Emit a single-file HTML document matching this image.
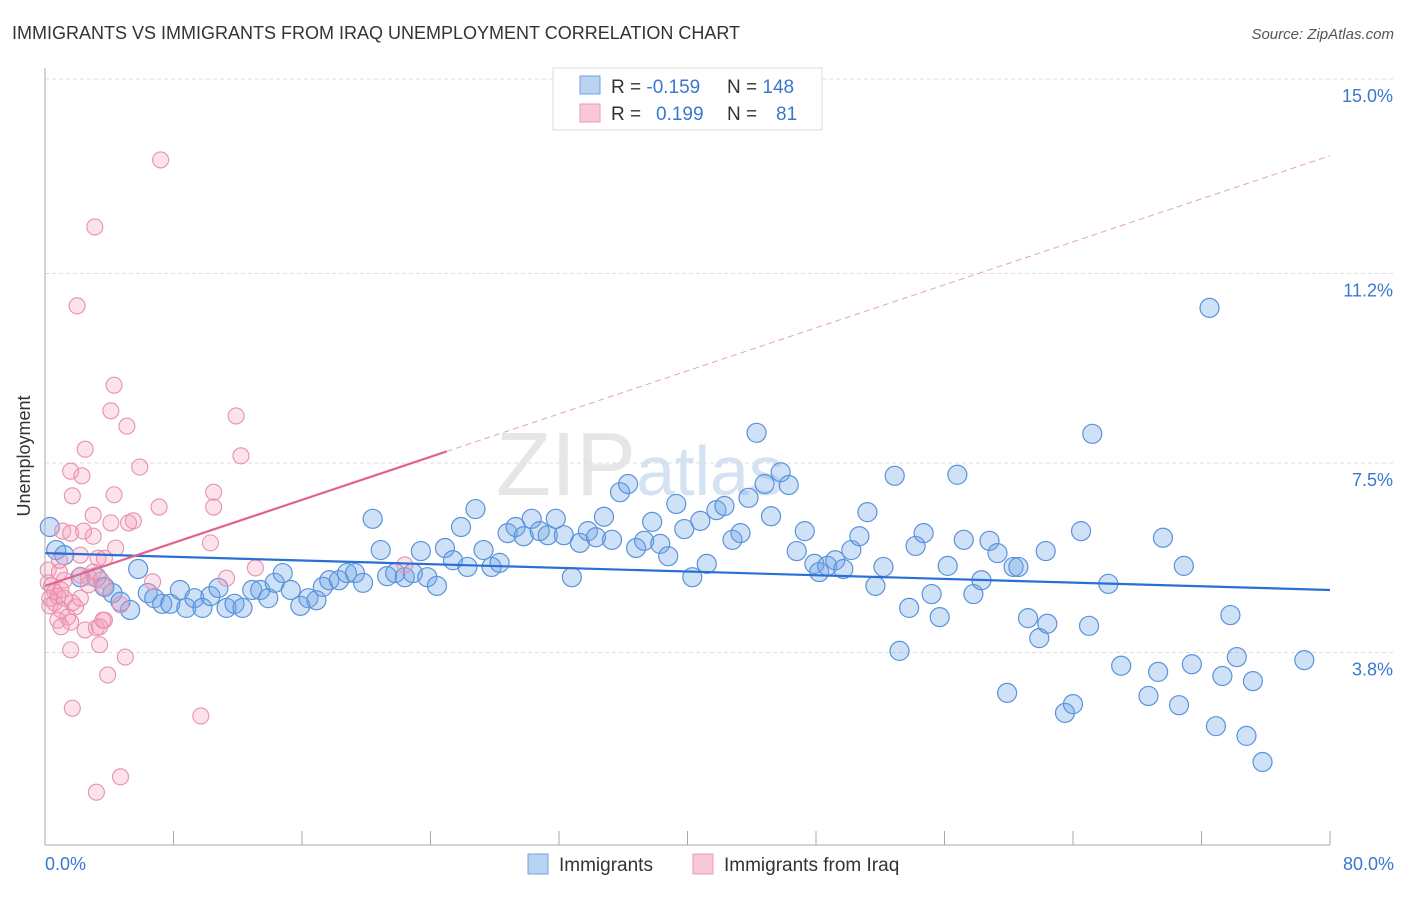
<!DOCTYPE html>
<html><head><meta charset="utf-8"><style>
body{margin:0;background:#fff;font-family:"Liberation Sans",sans-serif}
svg text{font-family:"Liberation Sans",sans-serif}
</style></head><body>
<svg id="c" width="1406" height="892">
<text x="12" y="39" font-size="18" fill="#333">IMMIGRANTS VS IMMIGRANTS FROM IRAQ UNEMPLOYMENT CORRELATION CHART</text>
<text x="1394" y="39" font-size="15" fill="#555" font-style="italic" text-anchor="end">Source: ZipAtlas.com</text>
<text x="30" y="456" font-size="18" fill="#333" text-anchor="middle" transform="rotate(-90 30 456)">Unemployment</text>
<text x="640" y="495" font-size="90" fill="#e6e6e6" font-family="Liberation Serif" text-anchor="middle">ZIP<tspan fill="#d4e2f3" font-family="Liberation Sans" font-size="70">atlas</tspan></text>
<g id="grid"></g><g id="pts"></g><g id="lines"></g>
<line x1="45" y1="68" x2="45" y2="845" stroke="#aaa"/>
<line x1="45" y1="845" x2="1330" y2="845" stroke="#aaa"/>
<text x="45" y="870" font-size="18" fill="#3a78d0">0.0%</text>
<text x="1394" y="870" font-size="18" fill="#3a78d0" text-anchor="end">80.0%</text>
<g>
<rect x="553" y="68" width="269" height="62" fill="#fff" stroke="#ddd"/>
<rect x="580" y="76" width="20" height="18" fill="#b9d3f2" stroke="#6fa0e0"/>
<rect x="580" y="104" width="20" height="18" fill="#f9c8d6" stroke="#ea9ab4"/>
<text x="611" y="93" font-size="19" fill="#333">R = <tspan fill="#3a78d0">-0.159</tspan><tspan x="727">N = </tspan><tspan fill="#3a78d0">148</tspan></text>
<text x="611" y="120" font-size="19" fill="#333">R = <tspan fill="#3a78d0" x="656">0.199</tspan><tspan x="727">N = </tspan><tspan fill="#3a78d0" x="776">81</tspan></text>
</g>
<g>
<rect x="528" y="854" width="20" height="20" fill="#b9d3f2" stroke="#6fa0e0"/>
<text x="559" y="871" font-size="19" fill="#333">Immigrants</text>
<rect x="693" y="854" width="20" height="20" fill="#f9c8d6" stroke="#ea9ab4"/>
<text x="724" y="871" font-size="19" fill="#333">Immigrants from Iraq</text>
</g>
</svg>
<script>
const yTicks=[3.8,7.5,11.2,15.0];
const yTickLabels=["3.8%","7.5%","11.2%","15.0%"];
const xTicks=[8,16,24,32,40,48,56,64,72,80];
const blueX=[0.3,0.7,1.2,2.2,3.2,3.7,4.2,4.7,5.3,5.8,6.4,6.8,7.3,7.8,8.4,8.8,9.3,9.8,10.3,10.8,11.3,11.8,12.3,12.9,13.4,13.9,14.3,14.8,15.3,15.9,16.4,16.9,17.3,17.7,18.3,18.8,19.3,19.8,20.4,20.9,21.3,21.8,22.4,22.9,23.4,23.8,24.4,24.9,25.4,25.9,26.3,26.8,27.3,27.8,28.3,28.8,29.3,29.8,30.3,30.8,31.3,31.8,32.3,32.8,33.3,33.8,34.3,34.8,35.3,35.8,36.3,36.8,37.3,37.8,38.3,38.8,39.3,39.8,40.3,40.8,41.2,41.8,42.3,42.8,43.3,43.8,44.3,44.8,45.2,45.8,46.3,46.8,47.3,47.9,48.2,48.7,49.2,49.7,50.2,50.7,51.2,51.7,52.2,52.9,53.2,53.8,54.2,54.7,55.2,55.7,56.2,56.8,57.2,57.8,58.3,58.8,59.3,59.9,60.3,60.6,61.2,61.9,62.4,62.3,63.5,64,64.5,65,65.2,66.2,67,68.7,69.3,69.6,70.6,70.9,71.4,72.5,72.9,73.3,73.8,74.2,74.8,75.2,75.8,78.4];
const blueY=[6.25,5.8,5.7,5.27,5.27,5.08,4.96,4.79,4.63,5.43,4.96,4.86,4.75,4.75,5.02,4.67,4.86,4.67,4.9,5.06,4.67,4.75,4.67,5.02,5.02,4.86,5.16,5.35,5.02,4.71,4.86,4.82,5.08,5.21,5.21,5.35,5.35,5.16,6.41,5.8,5.29,5.35,5.27,5.35,5.78,5.27,5.1,5.84,5.6,6.25,5.47,6.6,5.8,5.47,5.55,6.13,6.25,6.07,6.41,6.17,6.09,6.41,6.09,5.27,5.94,6.17,6.05,6.45,6,6.93,7.09,5.84,5.98,6.35,5.92,5.68,6.7,6.21,5.27,6.37,5.53,6.58,6.66,6,6.13,6.82,8.09,7.09,6.46,7.32,7.07,5.78,6.17,5.53,5.37,5.49,5.6,5.43,5.8,6.07,6.54,5.1,5.47,7.25,3.83,4.67,5.88,6.13,4.94,4.49,5.49,7.27,6,4.94,5.21,5.98,5.74,3.01,5.47,5.47,4.47,4.08,4.36,5.78,2.62,2.79,6.17,4.32,8.07,5.14,3.54,2.95,3.42,6.04,2.77,5.49,3.57,10.53,2.36,3.34,4.53,3.71,2.17,3.24,1.66,3.65];
const pinkX=[7.2,3.1,2,4.3,4.1,5.1,11.9,2.5,12.2,1.6,2.3,5.9,1.7,4.3,10.5,10.5,7.1,3,1.1,1.6,5.2,5.5,4.1,3,2.4,4.4,10.3,2.2,3.3,3.7,22.4,13.1,0.2,0.9,1.2,2.2,2.7,3,3.5,0.2,0.4,0.6,1,2.7,3.7,6.7,11.3,0.3,0.6,0.8,1.2,1.7,2.2,0.3,1,1.9,4.7,1.4,0.8,1.6,3.7,1,2.5,3.2,3.4,3.6,1.6,3.4,5,3.9,1.7,9.7,4.7,3.2,0.9];
const pinkY=[13.42,12.11,10.57,9.02,8.52,8.22,8.42,7.77,7.64,7.34,7.25,7.42,6.86,6.88,6.93,6.64,6.64,6.48,6.17,6.13,6.33,6.37,6.33,6.07,6.17,5.84,5.94,5.7,5.64,5.64,5.51,5.45,5.41,5.37,5.21,5.31,5.27,5.37,5.21,5.16,5.1,4.98,5.02,5.12,5.08,5.18,5.25,4.86,4.77,4.9,4.86,4.77,4.86,4.71,4.63,4.69,4.73,4.49,4.43,4.39,4.43,4.3,4.24,4.28,4.3,4.43,3.85,3.95,3.71,3.36,2.71,2.56,1.37,1.07,5.6];
const blueTrend=[5.74,5.02];
const pinkTrend=[5.1,13.5];
const pinkSolidEnd=25;
const NS="http://www.w3.org/2000/svg";
const X0=45,X1=1330,YB=847,PY=51.2;
function sx(v){return X0+(v/80)*(X1-X0);}
function sy(v){return YB-v*PY;}
function mk(tag,parent,attrs){const e=document.createElementNS(NS,tag);for(const k in attrs)e.setAttribute(k,attrs[k]);parent.appendChild(e);return e;}
const grid=document.getElementById('grid');
yTicks.forEach((t,i)=>{
 const l=mk('line',grid,{x1:45,x2:1394,y1:sy(t),y2:sy(t),stroke:'#ddd','stroke-dasharray':'4,3'});
 
 
 const tx=mk('text',grid,{x:1393,y:sy(t)+23,'font-size':18,fill:'#3a78d0','text-anchor':'end'});
 tx.textContent=yTickLabels[i];
 
 
});
xTicks.forEach(t=>{
 const l=mk('line',grid,{x1:sx(t),x2:sx(t),y1:831,y2:845,stroke:'#aaa'});
 
 
});
const pts=document.getElementById('pts');
blueX.forEach((x,i)=>{
 const c=mk('circle',pts,{cx:sx(x),cy:sy(blueY[i]),r:9.5,fill:'rgba(110,165,232,0.33)',stroke:'#5a93dc','stroke-width':1.2});
 
 
});
pinkX.forEach((x,i)=>{
 const c=mk('circle',pts,{cx:sx(x),cy:sy(pinkY[i]),r:8,fill:'rgba(245,160,190,0.3)',stroke:'#e890ae','stroke-width':1.1});
 
 
});
const lines=document.getElementById('lines');
const bl=mk('line',lines,{x1:sx(0),y1:sy(blueTrend[0]),x2:sx(80),y2:sy(blueTrend[1]),stroke:'#2a6fd6','stroke-width':2.2});


const pm=pinkTrend[0]+(pinkTrend[1]-pinkTrend[0])*pinkSolidEnd/80;
const pl=mk('line',lines,{x1:sx(0),y1:sy(pinkTrend[0]),x2:sx(pinkSolidEnd),y2:sy(pm),stroke:'#e4628e','stroke-width':2.2});


const pd=mk('line',lines,{x1:sx(pinkSolidEnd),y1:sy(pm),x2:sx(80),y2:sy(pinkTrend[1]),stroke:'#eaa0b8','stroke-width':1,'stroke-dasharray':'6,4'});


</script>
</body></html>
